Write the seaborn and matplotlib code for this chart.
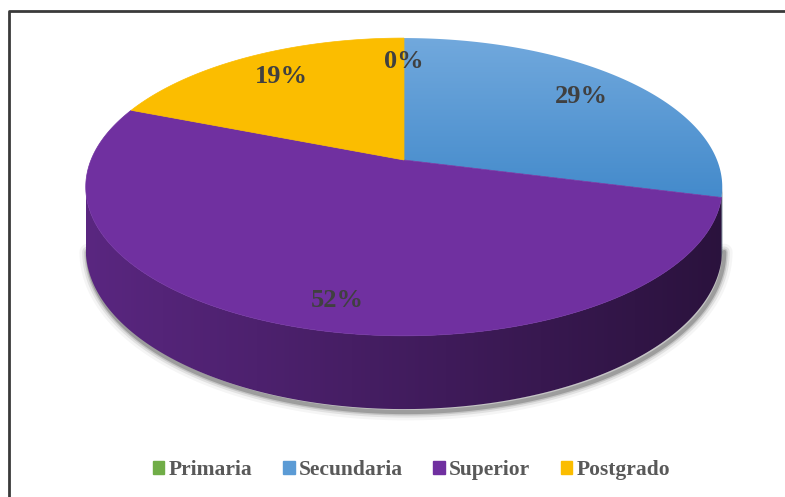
import numpy as np
import matplotlib.pyplot as plt
import seaborn as sns
from matplotlib.patches import Polygon, Rectangle
from matplotlib.colors import LinearSegmentedColormap, to_rgb

# datos
categorias = ["Primaria", "Secundaria", "Superior", "Postgrado"]
porcentajes = [0, 29, 52, 19]
colores = ["#70ad47", "#5b9bd5", "#7030a0", "#fbbd00"]

sns.set_style("white")
plt.rcParams['font.family'] = ['Liberation Serif', 'DejaVu Serif']

# geometria de la torta 3D (pixeles)
CX, CY = 404, 160
R, B, A, H = 313, 144, 0.181, 60


def proj(t, rho=1.0, h=0.0):
    X = rho * np.cos(t)
    Z = rho * np.sin(t)
    den = 1 + A * Z
    return CX + R * X / den, CY - B * Z / den + h / den


fig = plt.figure(figsize=(7.85, 4.97), dpi=100)
ax = fig.add_axes([0, 0, 1, 1])

frac = np.cumsum([0] + porcentajes) / 100.0
t_ini = np.pi / 2 - 2 * np.pi * frac[:-1]
t_fin = np.pi / 2 - 2 * np.pi * frac[1:]

# limites visibles de la cara lateral (silueta)
s0 = np.arcsin(A)
t_izq, t_der = -np.pi + s0, -s0

# sombra
ts = np.linspace(t_izq, t_der, 400)
bx, by = proj(ts, h=H)
for w, al in [(12, 0.04), (8, 0.08), (5, 0.12), (3, 0.2)]:
    ax.plot(bx + 2, by + 3, color='k', lw=w, alpha=al, solid_capstyle='round', zorder=1)

# cara lateral con degradado horizontal
tx, ty = proj(ts)
xmin, xmax = tx.min(), tx.max()
shade = np.linspace(0.8, 0.38, 300)
for k in range(len(categorias)):
    # el angulo puede estar desplazado 2pi
    for off in (0, -2 * np.pi, 2 * np.pi):
        lo = max(min(t_ini[k], t_fin[k]) + off, t_izq)
        hi = min(max(t_ini[k], t_fin[k]) + off, t_der)
        if hi - lo <= 1e-6:
            continue
        tt = np.linspace(lo, hi, 200)
        ux, uy = proj(tt)
        lx, ly = proj(tt, h=H)
        pts = list(zip(ux, uy)) + list(zip(lx[::-1], ly[::-1]))
        patch = Polygon(pts, closed=True, facecolor='none', edgecolor='none', zorder=2)
        ax.add_patch(patch)
        img = shade.reshape(1, -1, 1) * np.array(to_rgb(colores[k])).reshape(1, 1, 3)
        im = ax.imshow(img, extent=[xmin, xmax, 420, 150], aspect='auto', zorder=2,
                       interpolation='bilinear')
        im.set_clip_path(patch)

# cara superior
for k in range(len(categorias)):
    if porcentajes[k] == 0:
        continue
    tt = np.linspace(t_ini[k], t_fin[k], 200)
    px, py = proj(tt)
    pts = [(CX, CY)] + list(zip(px, py))
    if categorias[k] == "Secundaria":
        patch = Polygon(pts, closed=True, facecolor='none', edgecolor='none', zorder=3)
        ax.add_patch(patch)
        cmap = LinearSegmentedColormap.from_list('azul', ['#72a9dd', '#438acb'])
        grad = np.linspace(0, 1, 256).reshape(-1, 1)
        im = ax.imshow(grad, cmap=cmap, extent=[CX - 20, CX + 330, 200, 35],
                       aspect='auto', zorder=3, interpolation='bilinear')
        im.set_clip_path(patch)
    else:
        ax.add_patch(Polygon(pts, closed=True, facecolor=colores[k],
                             edgecolor=colores[k], lw=0.5, zorder=3))

# etiquetas
rho_etq = [0.78, 0.78, 0.85, 0.78]
giro_etq = [0, 0, 0.1, 0]
for k in range(len(categorias)):
    tm = 0.5 * (t_ini[k] + t_fin[k]) + giro_etq[k]
    lx, ly = proj(tm, rho=rho_etq[k])
    ax.text(lx, ly, f"{porcentajes[k]}%", ha='center', va='center', fontsize=19,
            fontweight='bold', color='#404040', zorder=5)

# marco
ax.plot([9, 9, 785], [497, 10.5, 10.5], color='#3a3a3a', lw=2, zorder=6)

ax.set_xlim(0, 785)
ax.set_ylim(497, 0)
ax.axis('off')

handles = [Rectangle((0, 0), 1, 1, color=c) for c in colores]
fig.legend(handles, categorias, loc='center', bbox_to_anchor=(411.5 / 785, 1 - 470 / 497),
           ncol=4, frameon=False, prop={'family': 'Liberation Serif', 'weight': 'bold', 'size': 15.5},
           labelcolor='#595959', handlelength=0.55, handleheight=0.55,
           handletextpad=0.2, columnspacing=1.4)

fig.savefig('out.png', dpi=100)
